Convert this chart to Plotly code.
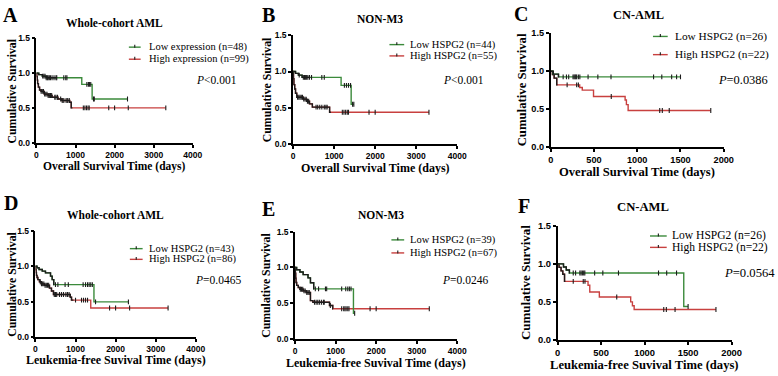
import plotly.graph_objects as go

W, H = 778, 376

# ---------------- DATA ----------------
# Panel A: Whole-cohort AML, overall survival
A_low_t = [0, 60, 150, 250, 1160, 1425]
A_low_s = [1.0, 0.979, 0.958, 0.935, 0.84, 0.63]
A_low_end = 2330
A_low_cens = [160, 190, 220, 250, 280, 300, 330, 360, 400, 450, 500, 520, 700, 750, 780,
              1290, 1330, 1360, 1390, 1460, 1480, 2330]
A_high_t = [0, 10, 20, 30, 50, 80, 120, 200, 300, 400, 550, 650, 850, 890]
A_high_s = [1.0, 0.95, 0.90, 0.85, 0.80, 0.76, 0.74, 0.70, 0.68, 0.655, 0.63, 0.61, 0.585, 0.505]
A_high_end = 3310
A_high_cens = [120, 150, 180, 210, 240, 270, 300, 330, 360, 390, 470, 500, 540, 620, 660, 700,
               760, 800, 840, 1200, 1240, 1280, 1320, 1350, 1850, 2000, 2350, 3310]

# Panel B: NON-M3, overall survival
B_low_t = [0, 60, 130, 220, 1170, 1415]
B_low_s = [1.0, 0.975, 0.95, 0.92, 0.81, 0.55]
B_low_end = 1480
B_low_cens = [150, 250, 280, 300, 330, 360, 400, 450, 700, 760, 1250, 1300, 1350, 1400,
              1450, 1480]
B_high_t = [0, 10, 20, 40, 60, 90, 250, 330, 400, 470, 890]
B_high_s = [1.0, 0.90, 0.82, 0.76, 0.70, 0.645, 0.62, 0.59, 0.555, 0.51, 0.44]
B_high_end = 3310
B_high_cens = [110, 140, 170, 200, 230, 260, 290, 320, 350, 380, 560, 600, 650, 700, 760,
               800, 830, 1200, 1240, 1280, 1320, 1350, 1850, 2000, 3310]

# Panel C: CN-AML, overall survival
C_low_t = [0, 30, 90]
C_low_s = [1.0, 0.962, 0.925]
C_low_end = 1500
C_low_cens = [144, 182, 208, 258, 270, 281, 290, 300, 320, 337, 432, 545, 697, 1189, 1284,
              1398, 1455, 1500]
C_high_t = [0, 20, 40, 70, 335, 365, 495, 860, 875, 895]
C_high_s = [1.0, 0.955, 0.909, 0.82, 0.785, 0.75, 0.667, 0.62, 0.56, 0.483]
C_high_end = 1850
C_high_cens = [190, 300, 320, 700, 1260, 1290, 1370, 1850]

# Panel D: Whole-cohort AML, leukemia-free survival
D_low_t = [0, 40, 90, 170, 250, 376, 417, 457, 1460]
D_low_s = [1.0, 0.977, 0.953, 0.93, 0.905, 0.86, 0.81, 0.74, 0.495]
D_low_end = 2320
D_low_cens = [500, 560, 740, 820, 1190, 1250, 1300, 1340, 1380, 1420, 1500, 2320]
D_high_t = [0, 8, 16, 24, 40, 60, 100, 150, 220, 350, 400, 450, 870, 900, 1380]
D_high_s = [1.0, 0.95, 0.91, 0.87, 0.84, 0.81, 0.78, 0.75, 0.73, 0.69, 0.65, 0.60, 0.56,
            0.52, 0.41]
D_high_end = 3310
D_high_cens = [120, 150, 180, 210, 240, 270, 300, 330, 470, 500, 530, 600, 650, 700, 760,
               800, 840, 1000, 1150, 1200, 1250, 1300, 1850, 2000, 2350, 3310]

# Panel E: NON-M3, leukemia-free survival
E_low_t = [0, 40, 120, 200, 320, 380, 460, 1440]
E_low_s = [1.0, 0.968, 0.936, 0.90, 0.855, 0.786, 0.70, 0.36]
E_low_end = 1470
E_low_cens = [500, 580, 750, 780, 1150, 1250, 1300, 1340, 1380, 1470]
E_high_t = [0, 8, 16, 24, 40, 80, 120, 200, 280, 380, 440, 850, 930]
E_high_s = [1.0, 0.92, 0.85, 0.79, 0.75, 0.72, 0.695, 0.673, 0.65, 0.536, 0.514, 0.468, 0.423]
E_high_end = 3310
E_high_cens = [130, 160, 190, 220, 250, 290, 320, 350, 480, 520, 560, 600, 650, 700, 720,
               870, 1150, 1200, 1230, 1260, 1300, 1330, 1850, 2000, 3310]

# Panel F: CN-AML, leukemia-free survival
F_low_t = [0, 68, 100, 136, 1450]
F_low_s = [1.0, 0.96, 0.92, 0.88, 0.44]
F_low_end = 1500
F_low_cens = [180, 207, 256, 270, 285, 300, 313, 426, 520, 700, 1160, 1254, 1367, 1500]
F_high_t = [0, 17, 40, 60, 80, 350, 370, 480, 840, 860, 880]
F_high_s = [1.0, 0.955, 0.909, 0.864, 0.77, 0.72, 0.63, 0.565, 0.5, 0.45, 0.40]
F_high_end = 1820
F_high_cens = [180, 295, 315, 680, 1220, 1250, 1350, 1820]

panel_letters = ["A", "B", "C", "D", "E", "F"]
panel_titles = ["Whole-cohort AML", "NON-M3", "CN-AML",
                "Whole-cohort AML", "NON-M3", "CN-AML"]
x_titles = ["Overall Survival Time (days)"] * 3 + ["Leukemia-free Suvival Time (days)"] * 3
y_title = "Cumulative Survival"
legend_low = ["Low expression (n=48)", "Low HSPG2 (n=44)", "Low HSPG2 (n=26)",
              "Low HSPG2 (n=43)", "Low HSPG2 (n=39)", "Low HSPG2 (n=26)"]
legend_high = ["High expression (n=99)", "High HSPG2 (n=55)", "High HSPG2 (n=22)",
               "High HSPG2 (n=86)", "High HSPG2 (n=67)", "High HSPG2 (n=22)"]
p_texts = ["<i>P</i><0.001", "<i>P</i><0.001", "<i>P</i>=0.0386",
           "<i>P</i>=0.0465", "<i>P</i>=0.0246", "<i>P</i>=0.0564"]
x_max = [4000, 4000, 2000, 4000, 4000, 2000]
x_dtick = [1000, 1000, 500, 1000, 1000, 500]
y_ticks = [0.0, 0.5, 1.0, 1.5]

curves = [
    (A_low_t, A_low_s, A_low_end, A_low_cens, A_high_t, A_high_s, A_high_end, A_high_cens),
    (B_low_t, B_low_s, B_low_end, B_low_cens, B_high_t, B_high_s, B_high_end, B_high_cens),
    (C_low_t, C_low_s, C_low_end, C_low_cens, C_high_t, C_high_s, C_high_end, C_high_cens),
    (D_low_t, D_low_s, D_low_end, D_low_cens, D_high_t, D_high_s, D_high_end, D_high_cens),
    (E_low_t, E_low_s, E_low_end, E_low_cens, E_high_t, E_high_s, E_high_end, E_high_cens),
    (F_low_t, F_low_s, F_low_end, F_low_cens, F_high_t, F_high_s, F_high_end, F_high_cens),
]

# ---------------- STYLE / LAYOUT ----------------
GREEN = "#3b8a3b"
RED = "#c8403f"
DARK = "#1c1c1c"
SERIF = "Liberation Serif, Times New Roman, serif"
SANS = "Liberation Sans, Arial, sans-serif"

# plot areas in pixels: (x0, x1, ytop, ybottom)
boxes = [(34, 193, 34, 142), (295, 462, 31, 143), (557, 733, 29, 146),
         (33, 196, 232, 341), (297, 462, 233, 343), (564, 741, 227, 344)]
# early part drawn dark (as in the source figure)
dark_until = [(520, 920), (420, 920), (100, 80), (470, 950), (470, 940), (140, 90)]
fscale = [1.0, 1.0, 1.08, 1.0, 1.0, 1.1]
letter_pos = [(8, 10), (270, 10), (527, 9), (8, 203), (270, 210), (530, 207)]
title_pos = [(113, 18), (383, 14), (646, 10), (114, 216), (384, 216), (651, 208)]
xtitle_y = [165.5, 167, 172, 365, 368, 369.5]
xtitle_size = [11.5, 12, 12.6, 12, 12, 12.6]
ytitle_x = [9, 268, 528, 9, 268, 532]
leg_line = [(128, 140), (393, 408), (661, 676), (129, 142), (395, 408), (658, 675)]
leg_text_x = [146, 412, 681, 146, 412, 678]
leg_rows = [(43.3, 55.7), (40.7, 52.3), (32.3, 51), (250.3, 261.3), (241.3, 254.7), (237.3, 249)]
p_pos = [(194, 77), (445, 77), (725, 77), (193, 282), (444, 282), (731, 275)]


def px(x):
    return x / W


def py(y):
    return 1 - y / H


def step_xy(t, s, end, stop=None):
    xs, ys = [], []
    for ti, si in zip(t, s):
        if stop is not None and ti > stop:
            break
        xs.append(ti)
        ys.append(si)
    last = end if stop is None else min(stop, end)
    xs.append(last)
    ys.append(ys[-1])
    return xs, ys


def surv_at(t, s, x):
    v = s[0]
    for ti, si in zip(t, s):
        if ti <= x:
            v = si
    return v


fig = go.Figure()
annotations = []
shapes = []
layout_axes = {}

for i in range(6):
    k = "" if i == 0 else str(i + 1)
    xa, ya = "x" + k, "y" + k
    x0, x1, yt, yb = boxes[i]
    lt, ls, lend, lc, ht, hs, hend, hc = curves[i]
    sc = fscale[i]

    for (t, s, end, cens, col, dk) in [(ht, hs, hend, hc, RED, dark_until[i][1]),
                                        (lt, ls, lend, lc, GREEN, dark_until[i][0])]:
        xs, ys = step_xy(t, s, end)
        fig.add_trace(go.Scatter(x=xs, y=ys, mode="lines", line=dict(color=col, width=1.4, shape="hv"),
                                 xaxis=xa, yaxis=ya, showlegend=False, hoverinfo="skip"))
        xs2, ys2 = step_xy(t, s, end, stop=dk)
        fig.add_trace(go.Scatter(x=xs2, y=ys2, mode="lines", line=dict(color=DARK, width=1.4, shape="hv"),
                                 xaxis=xa, yaxis=ya, showlegend=False, hoverinfo="skip"))
        fig.add_trace(go.Scatter(x=cens, y=[surv_at(t, s, c) for c in cens], mode="markers",
                                 marker=dict(symbol="line-ns", size=3.5, line=dict(color=DARK, width=1.1)),
                                 xaxis=xa, yaxis=ya, showlegend=False, hoverinfo="skip"))

    layout_axes["xaxis" + k] = dict(domain=[px(x0), px(x1)], range=[0, x_max[i]], dtick=x_dtick[i], tick0=0,
                                    anchor=ya, showline=True, linecolor="black", linewidth=1.5,
                                    ticks="outside", ticklen=3, tickwidth=1.5, tickcolor="black",
                                    showgrid=False, zeroline=False,
                                    tickfont=dict(family=SANS, size=8.5 * sc, color="black", weight="bold"))
    layout_axes["yaxis" + k] = dict(domain=[py(yb), py(yt)], range=[0, 1.5], tickvals=y_ticks,
                                    tickformat=".1f", anchor=xa, showline=True, linecolor="black",
                                    linewidth=1.5, ticks="outside", ticklen=3, tickwidth=1.5,
                                    tickcolor="black", showgrid=False, zeroline=False,
                                    tickfont=dict(family=SANS, size=8.5 * sc, color="black", weight="bold"))

    # panel letter
    lx, ly = letter_pos[i]
    annotations.append(dict(text="<b>%s</b>" % panel_letters[i], x=px(lx), y=py(ly), xref="paper",
                            yref="paper", showarrow=False, xanchor="center", yanchor="middle",
                            font=dict(family=SERIF, size=20, color="black")))
    # panel title
    tx, ty = title_pos[i]
    annotations.append(dict(text="<b>%s</b>" % panel_titles[i], x=px(tx), y=py(ty), xref="paper",
                            yref="paper", showarrow=False, xanchor="center", yanchor="middle",
                            font=dict(family=SERIF, size=11.5 * sc, color="black")))
    # axis titles
    annotations.append(dict(text="<b>%s</b>" % x_titles[i], x=px((x0 + x1) / 2), y=py(xtitle_y[i]),
                            xref="paper", yref="paper", showarrow=False, xanchor="center",
                            yanchor="middle", font=dict(family=SERIF, size=xtitle_size[i], color="black")))
    annotations.append(dict(text="<b>%s</b>" % y_title, x=px(ytitle_x[i]), y=py((yt + yb) / 2),
                            xref="paper", yref="paper", showarrow=False, textangle=-90,
                            xanchor="center", yanchor="middle",
                            font=dict(family=SERIF, size=11.8 * sc, color="black")))
    # legend
    l0, l1 = leg_line[i]
    for row, col, lab in [(leg_rows[i][0], GREEN, legend_low[i]), (leg_rows[i][1], RED, legend_high[i])]:
        shapes.append(dict(type="line", xref="paper", yref="paper", x0=px(l0), x1=px(l1), y0=py(row),
                           y1=py(row), line=dict(color=col, width=1.4)))
        mid = (l0 + l1) / 2
        shapes.append(dict(type="line", xref="paper", yref="paper", x0=px(mid), x1=px(mid),
                           y0=py(row - 2.5), y1=py(row + 0.5), line=dict(color=DARK, width=1.1)))
        annotations.append(dict(text=lab, x=px(leg_text_x[i]), y=py(row), xref="paper", yref="paper",
                                showarrow=False, xanchor="left", yanchor="middle",
                                font=dict(family=SERIF, size=10.5 * sc, color="black")))
    # p-value
    ppx, ppy = p_pos[i]
    annotations.append(dict(text=p_texts[i], x=px(ppx), y=py(ppy), xref="paper", yref="paper",
                            showarrow=False, xanchor="left", yanchor="middle",
                            font=dict(family=SERIF, size=11.5 * sc, color="black")))

fig.update_layout(width=W, height=H, margin=dict(l=0, r=0, t=0, b=0), plot_bgcolor="white",
                  paper_bgcolor="white", showlegend=False, annotations=annotations, shapes=shapes,
                  **layout_axes)

fig.write_html("out.html", config={"displayModeBar": False},
               post_script="document.body.style.margin='0';document.body.style.overflow='hidden';")
